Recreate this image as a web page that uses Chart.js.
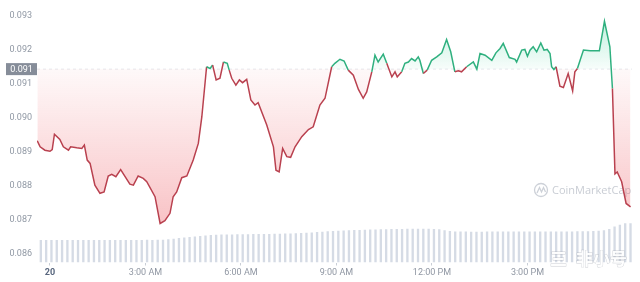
<!DOCTYPE html>
<html>
<head>
<meta charset="utf-8">
<script src="https://cdn.jsdelivr.net/npm/chart.js@4.4.1/dist/chart.umd.min.js"></script>
<style>
  html, body { margin: 0; padding: 0; background: #fff; }
  #wrap { width: 640px; height: 282px; }
</style>
</head>
<body>
<div id="wrap"><canvas id="c" width="640" height="282"></canvas></div>
<script>
// price line, hours after midnight of the 20th
const hours = [
  -0.40, -0.31, -0.16, 0.00, 0.07, 0.14, 0.31, 0.42, 0.58, 0.65, 0.84, 1.00, 1.08, 1.17, 1.26,
  1.41, 1.57, 1.70, 1.83, 1.94, 2.07, 2.22, 2.36, 2.51, 2.62, 2.77, 2.93, 3.04, 3.30, 3.46,
  3.61, 3.77, 3.87, 3.98, 4.14, 4.30, 4.50, 4.66, 4.77, 4.92, 5.03, 5.11, 5.22, 5.34, 5.45,
  5.57, 5.63, 5.71, 5.84, 5.95, 6.05, 6.18, 6.31, 6.44, 6.54, 6.81, 7.02, 7.10, 7.20, 7.31,
  7.44, 7.56, 7.70, 7.91, 8.12, 8.27, 8.48, 8.64, 8.85, 8.95, 9.11, 9.24, 9.37, 9.53, 9.69,
  9.84, 9.95, 10.11, 10.21, 10.31, 10.47, 10.58, 10.74, 10.84, 10.91, 11.05, 11.15, 11.26, 11.36, 11.47,
  11.57, 11.62, 11.73, 11.85, 11.99, 12.15, 12.31, 12.46, 12.59, 12.72, 12.83, 12.93, 13.09, 13.30, 13.41,
  13.51, 13.67, 13.88, 14.01, 14.14, 14.24, 14.43, 14.61, 14.66, 14.82, 14.92, 15.00, 15.08, 15.18, 15.29,
  15.42, 15.52, 15.62, 15.71, 15.76, 15.83, 15.90, 16.02, 16.13, 16.28, 16.42, 16.49, 16.57, 16.76, 16.97,
  17.26, 17.42, 17.59, 17.67, 17.75, 17.82, 17.96, 18.10, 18.24
];
const prices = [
  0.08932, 0.08914, 0.08904, 0.08901, 0.08906, 0.08951, 0.08936, 0.08914, 0.08904, 0.08914, 0.08911, 0.08909, 0.08919, 0.08875, 0.08865,
  0.08801, 0.08777, 0.08781, 0.08828, 0.08833, 0.08826, 0.08847, 0.08826, 0.08804, 0.08801, 0.08828, 0.08821, 0.08811, 0.08767, 0.08688,
  0.08696, 0.08718, 0.08767, 0.08781, 0.08823, 0.08828, 0.08875, 0.08924, 0.09002, 0.09150, 0.09145, 0.09155, 0.09111, 0.09116, 0.09164,
  0.09160, 0.09140, 0.09116, 0.09096, 0.09111, 0.09103, 0.09113, 0.09052, 0.09037, 0.09044, 0.08978, 0.08914, 0.08845, 0.08840, 0.08909,
  0.08885, 0.08883, 0.08914, 0.08944, 0.08965, 0.08973, 0.09037, 0.09057, 0.09150, 0.09160, 0.09172, 0.09167, 0.09140, 0.09125, 0.09083,
  0.09057, 0.09076, 0.09135, 0.09184, 0.09164, 0.09187, 0.09160, 0.09120, 0.09135, 0.09120, 0.09135, 0.09160, 0.09164, 0.09174, 0.09167,
  0.09179, 0.09169, 0.09130, 0.09140, 0.09169, 0.09179, 0.09191, 0.09230, 0.09194, 0.09135, 0.09138, 0.09135, 0.09150, 0.09164, 0.09143,
  0.09189, 0.09184, 0.09169, 0.09191, 0.09204, 0.09219, 0.09177, 0.09172, 0.09164, 0.09199, 0.09201, 0.09181, 0.09199, 0.09209, 0.09194,
  0.09220, 0.09199, 0.09201, 0.09189, 0.09150, 0.09142, 0.09150, 0.09093, 0.09089, 0.09130, 0.09079, 0.09135, 0.09145, 0.09199, 0.09197,
  0.09197, 0.09284, 0.09209, 0.09086, 0.08834, 0.08840, 0.08811, 0.08747, 0.08737
];

// 24h volume, one bar per 10 minutes (relative units)
const volume = [
  225, 224, 225, 226, 225, 224, 225, 226, 225, 225, 224, 225, 226, 226, 225, 225, 226, 225, 226, 226, 227, 226, 227, 228,
  232, 238, 244, 250, 256, 261, 266, 270, 274, 277, 279,
  280, 281, 282, 282, 283, 284, 284, 285, 286, 287, 288, 289, 290, 292, 294, 297, 300, 304, 308,
  312, 315, 318, 320, 322, 324, 326, 328, 330, 331, 332, 333, 334,
  335, 336, 337, 337, 338, 338, 337, 336, 332, 322,
  314, 310, 309, 309, 308, 308, 308, 309, 309,
  309, 309, 310, 310, 309, 309, 310, 310, 310, 311, 311, 310, 310, 311, 311, 312, 312, 313, 315, 318, 322,
  335, 360, 378, 392, 392
];

const baseline = 0.09143;
const baselineLabel = '0.091';
const yTicks = [0.086, 0.087, 0.088, 0.089, 0.090, 0.091, 0.092, 0.093];
const xTickHours = [0, 3, 6, 9, 12, 15];
const xTickLabels = ['20', '3:00 AM', '6:00 AM', '9:00 AM', '12:00 PM', '3:00 PM'];

const X_MIN = -0.408, X_MAX = 18.285;
const Y_MIN = 0.08573, Y_MAX = 0.09332;
const VOL_MAX = 2575;

const UP = '#2fb07f';
const DOWN = '#b9414f';

const lineData = hours.map((h, i) => ({ x: h, y: prices[i] }));
const volLabels = volume.map((v, i) => i);

const extras = {
  id: 'extras',
  beforeDatasetsDraw(chart) {
    const { ctx } = chart;
    // CoinMarketCap watermark
    ctx.save();
    ctx.strokeStyle = '#cdd1d8';
    ctx.fillStyle = '#c9cdd4';
    ctx.lineWidth = 1.3;
    ctx.beginPath();
    ctx.arc(541, 190, 6.5, 0, Math.PI * 2);
    ctx.stroke();
    ctx.beginPath();
    ctx.moveTo(537, 193);
    ctx.lineTo(539.5, 187.5);
    ctx.lineTo(541.5, 192);
    ctx.lineTo(543.5, 187.5);
    ctx.lineTo(545.5, 192);
    ctx.stroke();
    ctx.font = '11px "Open Sans", sans-serif';
    ctx.textBaseline = 'middle';
    ctx.fillText('CoinMarketCap', 552, 190.5);
    ctx.restore();
  },
  afterDraw(chart) {
    const { ctx } = chart;
    const y = chart.scales.y.getPixelForValue(baseline);
    // current price badge
    ctx.save();
    ctx.fillStyle = '#868d99';
    ctx.fillRect(6, y - 6, 31, 12);
    ctx.fillStyle = '#ffffff';
    ctx.font = '9px Roboto, sans-serif';
    ctx.textAlign = 'center';
    ctx.textBaseline = 'middle';
    ctx.fillText(baselineLabel, 21.5, y + 0.5);
    // repost watermark
    ctx.font = 'bold 17px "Noto Sans CJK SC", sans-serif';
    ctx.textAlign = 'left';
    ctx.lineWidth = 0.8;
    ctx.strokeStyle = 'rgba(160,165,175,0.55)';
    ctx.fillStyle = 'rgba(255,255,255,0.95)';
    ctx.strokeText('三', 550, 259);
    ctx.fillText('三', 550, 259);
    ctx.strokeText('非小号', 576, 259);
    ctx.fillText('非小号', 576, 259);
    ctx.restore();
  }
};

const chart = new Chart(document.getElementById('c'), {
  data: {
    datasets: [
      {
        type: 'line',
        data: lineData,
        xAxisID: 'x',
        yAxisID: 'y',
        borderWidth: 1.5,
        pointRadius: 0,
        tension: 0,
        borderColor: DOWN,
        segment: {
          borderColor: c => ((c.p0.parsed.y + c.p1.parsed.y) / 2 >= baseline ? UP : DOWN)
        },
        fill: { target: { value: baseline }, above: 'rgba(22,199,132,0.1)', below: 'rgba(234,57,67,0.1)' },
        order: 1
      },
      {
        type: 'line',
        data: [{ x: X_MIN, y: baseline }, { x: X_MAX, y: baseline }],
        xAxisID: 'x',
        yAxisID: 'y',
        borderColor: '#e6e8ec',
        borderWidth: 1,
        borderDash: [3, 3],
        pointRadius: 0,
        fill: false,
        order: 2
      },
      {
        type: 'bar',
        data: volume,
        xAxisID: 'xv',
        yAxisID: 'yv',
        backgroundColor: '#d5dbe5',
        barPercentage: 1,
        categoryPercentage: 0.88,
        order: 3
      }
    ]
  },
  options: {
    responsive: false,
    animation: false,
    layout: { padding: { left: 0, right: 8, top: 5, bottom: 0 } },
    plugins: { legend: { display: false }, tooltip: { enabled: false } },
    scales: {
      x: {
        type: 'linear',
        min: X_MIN,
        max: X_MAX,
        border: { display: false },
        grid: { display: true, drawOnChartArea: false, drawTicks: true, tickLength: 3, color: '#c9ced6' },
        ticks: {
          autoSkip: false,
          maxRotation: 0,
          padding: 2,
          font: c => ({ family: 'Roboto', size: 9, weight: c.index === 0 ? 'bold' : 'normal' }),
          color: c => (c.index === 0 ? '#58667e' : '#8f96a2'),
          callback: (v, i) => xTickLabels[i]
        },
        afterBuildTicks: s => { s.ticks = xTickHours.map(v => ({ value: v })); },
        afterFit: s => { s.height = 19.5; s.paddingLeft = 0; s.paddingRight = 0; }
      },
      y: {
        type: 'linear',
        position: 'left',
        min: Y_MIN,
        max: Y_MAX,
        border: { display: false },
        grid: { display: false, drawTicks: false },
        ticks: {
          padding: 5,
          font: { family: 'Roboto', size: 9 },
          color: '#9098a4',
          callback: v => v.toFixed(3)
        },
        afterBuildTicks: s => { s.ticks = yTicks.map(v => ({ value: v })); },
        afterFit: s => { s.width = 37; s.paddingTop = 0; s.paddingBottom = 0; }
      },
      xv: { type: 'category', labels: volLabels, display: false, offset: true },
      yv: { type: 'linear', display: false, min: 0, max: VOL_MAX }
    }
  },
  plugins: [extras]
});

// gradients need the laid out chart area
(function () {
  const ctx = chart.ctx;
  const ys = chart.scales.y;
  const by = ys.getPixelForValue(baseline);
  const red = ctx.createLinearGradient(0, by, 0, ys.getPixelForValue(0.0869));
  red.addColorStop(0, 'rgba(234,57,67,0.03)');
  red.addColorStop(1, 'rgba(234,57,67,0.30)');
  const green = ctx.createLinearGradient(0, ys.getPixelForValue(0.0928), 0, by);
  green.addColorStop(0, 'rgba(22,199,132,0.26)');
  green.addColorStop(1, 'rgba(22,199,132,0.03)');
  chart.data.datasets[0].fill = { target: { value: baseline }, above: green, below: red };
  chart.update('none');
})();
</script>
</body>
</html>
